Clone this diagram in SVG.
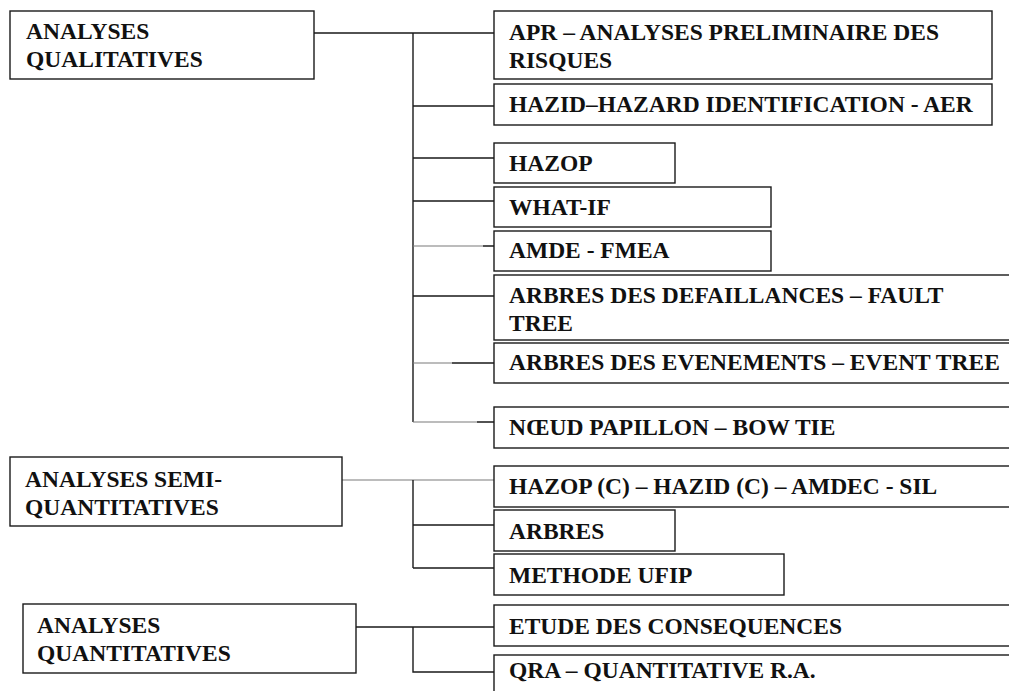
<svg xmlns="http://www.w3.org/2000/svg" width="1009" height="691" viewBox="0 0 1009 691">
  <style>
    .box { fill: #ffffff; stroke: #1a1a1a; stroke-width: 1.4; }
    .lbl { font-family: "Liberation Serif", "Times New Roman", serif; font-weight: bold; font-size: 23.5px; fill: #111111; }
    .ln { fill: none; stroke: #1a1a1a; stroke-width: 1.4; }
    .thin { fill: none; stroke: #7a7a7a; stroke-width: 1.2; }
  </style>
  <rect width="1009" height="691" fill="#ffffff"/>

  <!-- connectors -->
  <g id="connectors">
    <!-- qualitative branch -->
    <path class="ln" d="M314 33 H494 M413 33 V422 M413 106 H494 M413 158 H494 M413 201 H494 M483 246 H494 M413 296 H494 M452 363 H494 M477 422 H494"/>
    <path class="thin" d="M413 246 H483 M413 363 H452 M413 422 H477"/>
    <!-- semi-quantitative branch -->
    <path class="thin" d="M342 480 H494"/>
    <path class="ln" d="M413 480 V568 M413 525 H494 M413 568 H494"/>
    <!-- quantitative branch -->
    <path class="ln" d="M356 627 H494 M413 627 V672 H494"/>
  </g>

  <!-- category nodes -->
  <g id="qualitatives">
    <rect class="box" x="10" y="11" width="304" height="68"/>
    <text class="lbl" x="26" y="39">ANALYSES</text>
    <text class="lbl" x="26" y="67">QUALITATIVES</text>
  </g>
  <g id="semi-quantitatives">
    <rect class="box" x="10" y="457" width="332" height="69"/>
    <text class="lbl" x="25" y="487">ANALYSES SEMI-</text>
    <text class="lbl" x="25" y="515">QUANTITATIVES</text>
  </g>
  <g id="quantitatives">
    <rect class="box" x="23" y="604" width="333" height="69"/>
    <text class="lbl" x="37" y="633">ANALYSES</text>
    <text class="lbl" x="37" y="661">QUANTITATIVES</text>
  </g>

  <!-- method nodes -->
  <g id="apr">
    <rect class="box" x="494" y="11" width="498" height="68"/>
    <text class="lbl" x="509" y="40">APR – ANALYSES PRELIMINAIRE DES</text>
    <text class="lbl" x="509" y="68">RISQUES</text>
  </g>
  <g id="hazid">
    <rect class="box" x="494" y="84" width="498" height="41"/>
    <text class="lbl" x="509" y="112">HAZID–HAZARD IDENTIFICATION - AER</text>
  </g>
  <g id="hazop">
    <rect class="box" x="494" y="143" width="181" height="40"/>
    <text class="lbl" x="509" y="171">HAZOP</text>
  </g>
  <g id="what-if">
    <rect class="box" x="494" y="187" width="277" height="40"/>
    <text class="lbl" x="509" y="215">WHAT-IF</text>
  </g>
  <g id="amde">
    <rect class="box" x="494" y="231" width="277" height="40"/>
    <text class="lbl" x="509" y="258">AMDE - FMEA</text>
  </g>
  <g id="fault-tree">
    <rect class="box" x="494" y="275" width="530" height="65"/>
    <text class="lbl" x="509" y="303">ARBRES DES DEFAILLANCES – FAULT</text>
    <text class="lbl" x="509" y="331">TREE</text>
  </g>
  <g id="event-tree">
    <rect class="box" x="494" y="343" width="530" height="40"/>
    <text class="lbl" x="509" y="370">ARBRES DES EVENEMENTS – EVENT TREE</text>
  </g>
  <g id="bow-tie">
    <rect class="box" x="494" y="407" width="530" height="41"/>
    <text class="lbl" x="509" y="435">NŒUD PAPILLON – BOW TIE</text>
  </g>
  <g id="hazop-c">
    <rect class="box" x="494" y="466" width="530" height="41"/>
    <text class="lbl" x="509" y="494">HAZOP (C) – HAZID (C) – AMDEC - SIL</text>
  </g>
  <g id="arbres">
    <rect class="box" x="494" y="510" width="181" height="41"/>
    <text class="lbl" x="509" y="539">ARBRES</text>
  </g>
  <g id="ufip">
    <rect class="box" x="494" y="554" width="290" height="41"/>
    <text class="lbl" x="509" y="583">METHODE UFIP</text>
  </g>
  <g id="consequences">
    <rect class="box" x="494" y="605" width="530" height="41"/>
    <text class="lbl" x="509" y="634">ETUDE DES CONSEQUENCES</text>
  </g>
  <g id="qra">
    <rect class="box" x="494" y="655" width="530" height="50"/>
    <text class="lbl" x="509" y="678">QRA – QUANTITATIVE R.A.</text>
  </g>
</svg>
